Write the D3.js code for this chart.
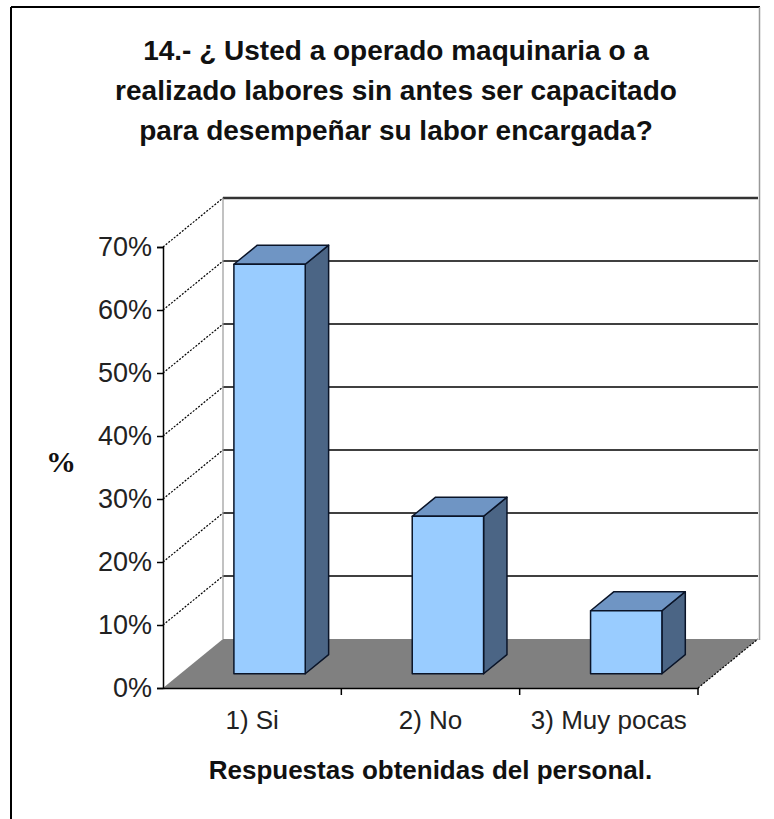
<!DOCTYPE html>
<html>
<head>
<meta charset="utf-8">
<script src="https://cdn.jsdelivr.net/npm/d3@7"></script>
<style>
    body { margin: 0; background: #fff; }
    text { font-family: "Liberation Sans", Arial, sans-serif; }
</style>
</head>
<body>
<div id="chart"></div>
<script>
var categories = ["1) Si", "2) No", "3) Muy pocas"];
var values = [65, 25, 10];
var tickValues = [0, 10, 20, 30, 40, 50, 60, 70];
var titleLines = [
    "14.- ¿ Usted a operado maquinaria o a",
    "realizado labores sin antes ser capacitado",
    "para desempeñar su labor encargada?"
];

var W = 774, H = 819;
// depth offset of the back wall
var depthX = 60, depthY = -49;

var svg = d3.select("#chart").append("svg")
    .attr("width", W)
    .attr("height", H);

// outer frame
svg.append("line").attr("x1", 11).attr("y1", 7).attr("x2", 760).attr("y2", 7)
    .attr("stroke", "#000").attr("stroke-width", 2);
svg.append("line").attr("x1", 11).attr("y1", 7).attr("x2", 11).attr("y2", H)
    .attr("stroke", "#000").attr("stroke-width", 2);
svg.append("line").attr("x1", 759.5).attr("y1", 7).attr("x2", 759.5).attr("y2", 640)
    .attr("stroke", "#999").attr("stroke-width", 1.5);

var xScale = d3.scaleBand()
    .domain(categories)
    .range([163, 698])
    .paddingInner(0.6)
    .paddingOuter(0.3);

var yScale = d3.scaleLinear()
    .domain([0, 70])
    .range([688, 247]);

// project a point: x on front, value, depth z 0..1
function px(x, z) { return x + z * depthX; }
function py(v, z) { return yScale(v) + z * depthY; }

var x0 = xScale.range()[0], x1 = xScale.range()[1];

// back wall gridlines
svg.append("g").selectAll("line")
    .data(tickValues.filter(function (d) { return d > 0; }))
    .enter().append("line")
    .attr("x1", px(x0, 1)).attr("x2", px(x1, 1))
    .attr("y1", function (d) { return py(d, 1); })
    .attr("y2", function (d) { return py(d, 1); })
    .attr("stroke", function (d) { return d === 70 ? "#333" : "#000"; })
    .attr("stroke-width", function (d) { return d === 70 ? 2.5 : 1.5; });

// back wall left edge
svg.append("line")
    .attr("x1", px(x0, 1)).attr("x2", px(x0, 1))
    .attr("y1", py(70, 1)).attr("y2", py(0, 1))
    .attr("stroke", "#999").attr("stroke-width", 1.2);

// side wall diagonals
svg.append("g").selectAll("line")
    .data(tickValues.filter(function (d) { return d > 0; }))
    .enter().append("line")
    .attr("x1", px(x0, 0)).attr("x2", px(x0, 1))
    .attr("y1", function (d) { return py(d, 0); })
    .attr("y2", function (d) { return py(d, 1); })
    .attr("stroke", "#000").attr("stroke-width", 1.2)
    .attr("stroke-dasharray", "2,1.5");

// floor
var floorPts = [[px(x0, 0), py(0, 0)], [px(x1, 0), py(0, 0)], [px(x1, 1), py(0, 1)], [px(x0, 1), py(0, 1)]];
svg.append("polygon")
    .attr("points", floorPts.map(function (p) { return p.join(","); }).join(" "))
    .attr("fill", "#808080");
svg.append("line")
    .attr("x1", px(x1, 0)).attr("y1", py(0, 0))
    .attr("x2", px(x1, 1)).attr("y2", py(0, 1))
    .attr("stroke", "#000").attr("stroke-width", 1.2)
    .attr("stroke-dasharray", "2,1.5");

// bars
var zFront = 0.29, zBack = 0.68;
var bars = svg.append("g").selectAll("g")
    .data(categories.map(function (c, i) { return { cat: c, val: values[i] }; }))
    .enter().append("g");

function poly(sel, fn, fill) {
    sel.append("polygon")
        .attr("points", function (d) {
            return fn(d).map(function (p) { return p.join(","); }).join(" ");
        })
        .attr("fill", fill)
        .attr("stroke", "#0a1428")
        .attr("stroke-width", 1.5)
        .attr("stroke-linejoin", "round");
}

// side face
poly(bars, function (d) {
    var xr = xScale(d.cat) + xScale.bandwidth();
    return [[px(xr, zFront), py(d.val, zFront)], [px(xr, zBack), py(d.val, zBack)],
        [px(xr, zBack), py(0, zBack)], [px(xr, zFront), py(0, zFront)]];
}, "#4b6585");
// top face
poly(bars, function (d) {
    var xl = xScale(d.cat), xr = xl + xScale.bandwidth();
    return [[px(xl, zFront), py(d.val, zFront)], [px(xr, zFront), py(d.val, zFront)],
        [px(xr, zBack), py(d.val, zBack)], [px(xl, zBack), py(d.val, zBack)]];
}, "#6f95c4");
// front face
poly(bars, function (d) {
    var xl = xScale(d.cat), xr = xl + xScale.bandwidth();
    return [[px(xl, zFront), py(d.val, zFront)], [px(xr, zFront), py(d.val, zFront)],
        [px(xr, zFront), py(0, zFront)], [px(xl, zFront), py(0, zFront)]];
}, "#99ccff");

// y axis
var yAxis = d3.axisLeft(yScale)
    .tickValues(tickValues)
    .tickSize(6)
    .tickPadding(5)
    .tickFormat(function (d) { return d + "%"; });

var yG = svg.append("g")
    .attr("transform", "translate(" + x0 + ",0)")
    .call(yAxis);
yG.select(".domain").attr("stroke", "#000").attr("stroke-width", 1.5);
yG.selectAll(".tick line").attr("stroke", "#000").attr("stroke-width", 1.5);
yG.selectAll(".tick text")
    .attr("font-size", 27)
    .attr("font-family", "Liberation Sans, Arial, sans-serif")
    .attr("fill", "#222");

// x axis
var xAxis = d3.axisBottom(xScale)
    .tickSize(0)
    .tickPadding(23);
var xG = svg.append("g")
    .attr("transform", "translate(0," + yScale(0) + ")")
    .call(xAxis);
xG.select(".domain").attr("stroke", "#000").attr("stroke-width", 1.5);
xG.selectAll(".tick text")
    .attr("font-size", 26)
    .attr("font-family", "Liberation Sans, Arial, sans-serif")
    .attr("fill", "#222");

// category boundary ticks
svg.append("g").selectAll("line")
    .data(categories)
    .enter().append("line")
    .attr("x1", function (d) { return xScale(d) + xScale.bandwidth() + xScale.step() * 0.3; })
    .attr("x2", function (d) { return xScale(d) + xScale.bandwidth() + xScale.step() * 0.3; })
    .attr("y1", yScale(0)).attr("y2", yScale(0) + 7)
    .attr("stroke", "#000").attr("stroke-width", 1.5);

// title
svg.append("g").selectAll("text")
    .data(titleLines)
    .enter().append("text")
    .attr("x", 396)
    .attr("y", function (d, i) { return 60 + i * 40; })
    .attr("text-anchor", "middle")
    .attr("font-size", 28)
    .attr("font-weight", "bold")
    .attr("fill", "#111")
    .text(function (d) { return d; });

// axis titles
svg.append("text")
    .attr("x", 61).attr("y", 472)
    .attr("text-anchor", "middle")
    .attr("font-size", 30)
    .attr("font-weight", "bold")
    .style("font-family", "Liberation Serif, serif")
    .attr("fill", "#111")
    .text("%");

svg.append("text")
    .attr("x", (x0 + x1) / 2).attr("y", 779)
    .attr("text-anchor", "middle")
    .attr("font-size", 26)
    .attr("font-weight", "bold")
    .attr("fill", "#111")
    .text("Respuestas obtenidas del personal.");
</script>
</body>
</html>
